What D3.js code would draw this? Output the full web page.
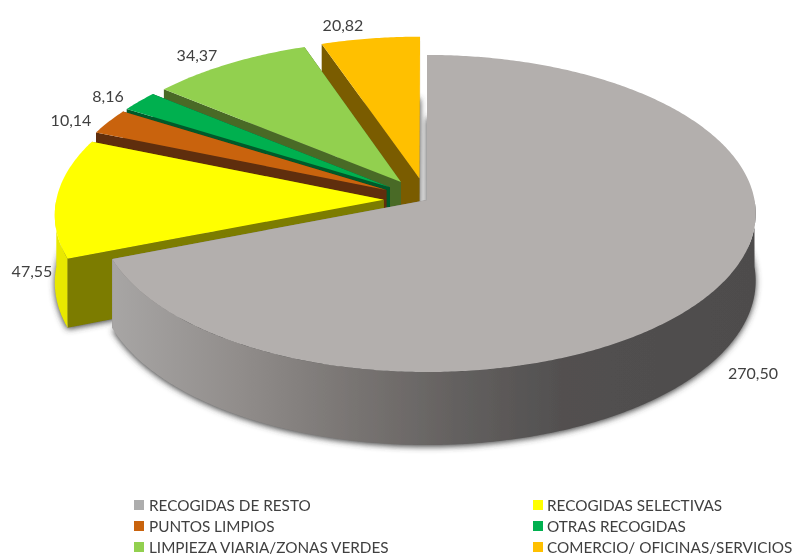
<!DOCTYPE html>
<html><head><meta charset="utf-8">
<script src="https://cdnjs.cloudflare.com/ajax/libs/d3/7.8.5/d3.min.js"></script>
<style>html,body{margin:0;padding:0;background:#fff}svg{display:block}text{font-family:Lato,"Open Sans",sans-serif;fill:#404040}</style>
</head><body><svg id="c" width="794" height="556"></svg>
<script>
// ---- data ----
const categories = ["RECOGIDAS DE RESTO","RECOGIDAS SELECTIVAS","PUNTOS LIMPIOS","OTRAS RECOGIDAS","LIMPIEZA VIARIA/ZONAS VERDES","COMERCIO/ OFICINAS/SERVICIOS"];
const values = [270.50,47.55,10.14,8.16,34.37,20.82];
const topColors = ["#B3AFAD","#FFFF00","#C9640F","#00B050","#92D050","#FFC000"];
const sideColors = ["#7F7B7A","#7B7B00","#5E2E08","#005A2A","#4A6A28","#7A5C00"];
const rimColors = ["url(#rim)","#E8E800","#A85208","#008A40","#78AC40","#E0A800"];
const legendColors = ["#ADADAD","#FFFF00","#C9640F","#00B050","#92D050","#FFC000"];
// ---- layout ----
const labelCenters = [[753,372],[32,270],[71,119],[108,95],[197,54],[343,24]];
const X0=427,Y0=200,BX=327.5,AY=157.4,K=0.085,DEPTH=66.8,EXPLODE=[0,.132,.14,.14,.14,.14];
const svg=d3.select("#c");
const defs=svg.append("defs");
const rim=defs.append("linearGradient").attr("id","rim").attr("gradientUnits","userSpaceOnUse")
  .attr("x1",110).attr("x2",755).attr("y1",0).attr("y2",0);
[[0,"#A8A6A5"],[.2,"#918D8B"],[.38,"#787472"],[.55,"#625F5E"],[.7,"#525050"],[1,"#4E4C4C"]]
 .forEach(s=>rim.append("stop").attr("offset",s[0]).attr("stop-color",s[1]));
defs.append("filter").attr("id","blur").attr("x","-10%").attr("y","-10%").attr("width","120%").attr("height","120%")
  .append("feGaussianBlur").attr("stdDeviation",3);
defs.append("filter").attr("id","soft").attr("filterUnits","userSpaceOnUse").attr("x",0).attr("y",0).attr("width",794).attr("height",556)
  .append("feGaussianBlur").attr("stdDeviation",0.45);

function project(u,v,drop){ const w=1-K*v; return [X0+BX*u/w, Y0+AY*v/w+(drop?DEPTH/w:0)]; }
const pie=d3.pie().sort(null).value(d=>d).startAngle(0).endAngle(2*Math.PI);
const arcs=pie(values).map((a,i)=>{
  const mid=(a.startAngle+a.endAngle)/2,e=EXPLODE[i];
  return {...a,i,cu:e*Math.sin(mid),cv:-e*Math.cos(mid)};
});
const line=d3.line();
function rimPts(a,drop,from=a.startAngle,to=a.endAngle){
  const n=Math.max(2,Math.ceil((to-from)/0.01)),pts=[];
  d3.range(n+1).forEach(j=>{const t=from+(to-from)*j/n;
    pts.push(project(a.cu+Math.sin(t),a.cv-Math.cos(t),drop));});
  return pts;
}
function sector(a,drop){return line([project(a.cu,a.cv,drop),...rimPts(a,drop)])+"Z";}
function radial(a,t){
  const o=[a.cu+Math.sin(t),a.cv-Math.cos(t)];
  return line([project(a.cu,a.cv,false),project(o[0],o[1],false),project(o[0],o[1],true),project(a.cu,a.cv,true)])+"Z";
}
const order=[5,4,3,2,1,0];
const root=svg.append("g").attr("filter","url(#soft)");
const g=root.append("g");
// soft shadows under the bottom faces
g.append("g").attr("filter","url(#blur)").attr("transform","translate(0,1.5)")
 .selectAll("path").data(order.map(i=>arcs[i])).join("path")
 .attr("d",a=>sector(a,true)).attr("fill","#3c3c3c");
// slices back to front; only the viewer-facing stretch of a rim is drawn
order.forEach(i=>{
  const a=arcs[i],s=g.append("g");
  s.append("path").attr("d",radial(a,a.startAngle)).attr("fill",sideColors[i]);
  s.append("path").attr("d",radial(a,a.endAngle)).attr("fill",sideColors[i]);
  const from=Math.max(a.startAngle,Math.PI/2), to=Math.min(a.endAngle,Math.PI*1.5);
  if(to>from) s.append("path").attr("d",line([...rimPts(a,false,from,to),...rimPts(a,true,from,to).reverse()])+"Z").attr("fill",rimColors[i]);
  s.append("path").attr("d",sector(a,false)).attr("fill",topColors[i]);
});
// value labels
const fmt=v=>v.toFixed(2).replace(".",",");
root.append("g").selectAll("text").data(values).join("text")
  .attr("x",(d,i)=>labelCenters[i][0]).attr("y",(d,i)=>labelCenters[i][1])
  .attr("text-anchor","middle").attr("dominant-baseline","central")
  .attr("font-size",16).text(fmt);
// legend
const colX=d3.scalePoint().domain([0,1]).range([134,533]);
const rowY=d3.scalePoint().domain([0,1,2]).range([505,547]);
const lg=root.append("g").selectAll("g").data(categories).join("g")
  .attr("transform",(d,i)=>`translate(${colX(i%2)},${rowY(Math.floor(i/2))})`);
lg.append("rect").attr("x",0).attr("y",-5).attr("width",10).attr("height",10).attr("fill",(d,i)=>legendColors[i]);
lg.append("text").attr("x",(d,i)=>i%2?14:15).attr("dominant-baseline","central").attr("font-size",15.3).text(d=>d);
</script></body></html>
